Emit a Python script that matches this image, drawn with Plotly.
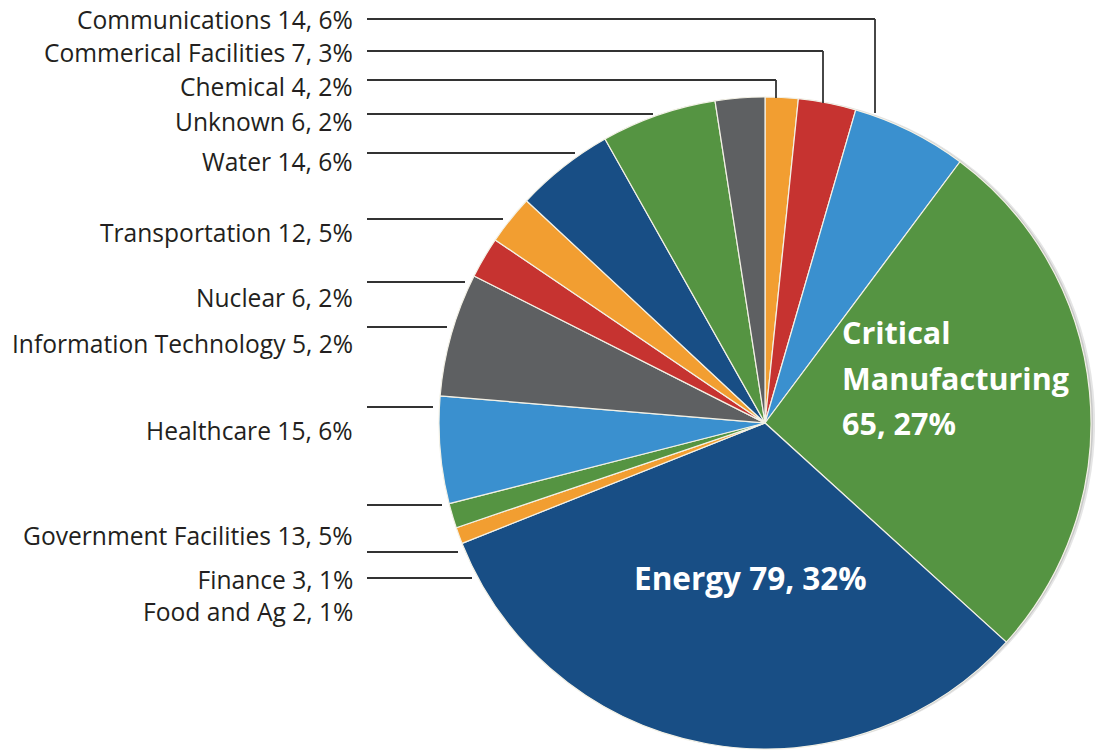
import plotly.graph_objects as go

# ---------------- data ----------------
sectors = ["Chemical", "Commerical Facilities", "Communications", "Critical Manufacturing",
           "Energy", "Food and Ag", "Finance", "Government Facilities", "Healthcare",
           "Information Technology", "Nuclear", "Transportation", "Water", "Unknown"]
counts = [4, 7, 14, 65, 79, 2, 3, 13, 15, 5, 6, 12, 14, 6]
percents = [2, 3, 6, 27, 32, 1, 1, 5, 6, 2, 2, 5, 6, 2]

# ---------------- style ----------------
ORANGE, RED, LBLUE, GREEN, DBLUE, GRAY = "#F29E31", "#C63330", "#3A90CF", "#559442", "#184E85", "#5E6062"
slice_colors = [ORANGE, RED, LBLUE, GREEN, DBLUE, ORANGE, GREEN, LBLUE, GRAY, RED, ORANGE, DBLUE, GREEN, GRAY]

W, H = 1095, 750
def px(x):
    return x / W
def py(y):
    return 1 - y / H

CX, CY, R = 765, 423, 326
FONT = "Open Sans"
TXT = "#231F20"
LINE = "#333333"

fig = go.Figure()

# soft shadow layers behind the pie
for dx, dy, a in [(4, 0, 0.10), (2, 0, 0.12)]:
    fig.add_trace(go.Pie(values=[1], labels=["shadow"], sort=False, textinfo="none",
                         hoverinfo="skip", showlegend=False,
                         marker=dict(colors=[f"rgba(0,0,0,{a})"], line=dict(width=0)),
                         domain=dict(x=[px(CX + dx - R), px(CX + dx + R)],
                                     y=[py(CY + dy + R), py(CY + dy - R)])))

fig.add_trace(go.Pie(
    labels=sectors, values=counts, sort=False, direction="clockwise", rotation=0,
    textinfo="none", showlegend=False,
    marker=dict(colors=slice_colors, line=dict(color="#F3F1E6", width=1.2)),
    domain=dict(x=[px(CX - R), px(CX + R)], y=[py(CY + R), py(CY - R)]),
    hovertemplate="%{label}: %{value}<extra></extra>",
))

def lab(i):
    return f"{sectors[i]} {counts[i]}, {percents[i]}%"

# outside labels (right aligned) : text, centre y
label_pos = [(lab(2), 20), (lab(1), 52), (lab(0), 86), (lab(13), 122), (lab(12), 162),
             (lab(11), 232), (lab(10), 297), (lab(9), 343), (lab(8), 430), (lab(7), 535),
             (lab(6) + "<br>" + lab(5), 595)]
annotations = []
for t, y in label_pos:
    annotations.append(dict(text=t, x=px(355), y=py(y), xref="paper", yref="paper",
                            xanchor="right", yanchor="middle", align="right", showarrow=False,
                            font=dict(family=FONT, size=24.6, color=TXT)))

# inside labels
for t, y in [("Critical", 332), ("Manufacturing", 378), (f"{counts[3]}, {percents[3]}%", 423)]:
    annotations.append(dict(text=f"<b>{t}</b>", x=px(840), y=py(y), xref="paper", yref="paper",
                            xanchor="left", yanchor="middle", showarrow=False,
                            font=dict(family=FONT, size=30.5, color="white")))
annotations.append(dict(text=f"<b>{sectors[4]} {counts[4]}, {percents[4]}%</b>",
                        x=px(750), y=py(577), xref="paper", yref="paper",
                        xanchor="center", yanchor="middle", showarrow=False,
                        font=dict(family=FONT, size=31.5, color="white")))

# leader lines (label y, horizontal end x, vertical end y or None)
leaders = [(19, 875, 113), (51, 823, 103), (80, 776, 98), (114, 653, None),
           (153, 575, None), (219, 503, None), (282, 465, None), (327, 447, None),
           (407, 433, None), (505, 442, None), (552, 458, None), (578, 472, None)]
shapes = []
for y, xe, ye in leaders:
    shapes.append(dict(type="line", xref="paper", yref="paper", x0=px(367), x1=px(xe),
                       y0=py(y), y1=py(y), line=dict(color=LINE, width=1.8)))
    if ye is not None:
        shapes.append(dict(type="line", xref="paper", yref="paper", x0=px(xe), x1=px(xe),
                           y0=py(y), y1=py(ye), line=dict(color=LINE, width=1.8)))

fig.update_layout(width=W, height=H, margin=dict(l=0, r=0, t=0, b=0),
                  paper_bgcolor="white", plot_bgcolor="white",
                  annotations=annotations, shapes=shapes)

fig.write_html("out.html")
